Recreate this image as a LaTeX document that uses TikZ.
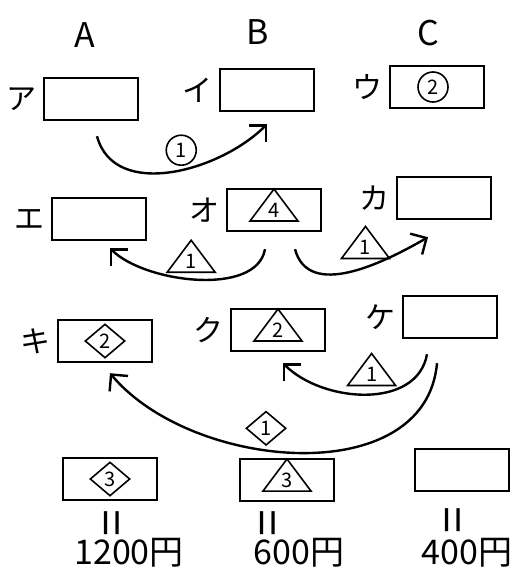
\documentclass[tikz,border=0pt]{standalone}
\usepackage{fontspec}
\setmainfont{Noto Sans CJK JP}
\usetikzlibrary{arrows.meta,positioning,shapes.geometric}

\begin{document}
\begin{tikzpicture}[
  x=0.5pt, y=-0.5pt,
  node distance=3pt,
  box/.style={draw, very thick, minimum width=47pt, minimum height=21pt, inner sep=0pt},
  kana/.style={font=\fontsize{15}{15}\selectfont, inner sep=0pt},
  head/.style={font=\fontsize{17}{17}\selectfont, inner sep=0pt},
  price/.style={font=\fontsize{17}{17}\selectfont, inner sep=0pt},
  eqsign/.style={font=\fontsize{24}{24}\selectfont, inner sep=0pt, rotate=90},
  circ/.style={draw, thick, circle, minimum size=15pt, inner sep=0pt, font=\fontsize{10}{10}\selectfont},
  tri/.style={draw, thick, isosceles triangle, shape border rotate=90, isosceles triangle stretches, minimum width=24pt, minimum height=16pt, inner sep=0pt, font=\fontsize{10}{10}\selectfont},
  dia/.style={draw, thick, diamond, minimum width=20pt, minimum height=17pt, inner sep=0pt, font=\fontsize{10}{10}\selectfont},
  arrow/.style={-{Straight Barb[length=6pt,width=12pt]}, very thick}
]
\useasboundingbox (0,0) rectangle (516,568);

% column heads
\node[head] (hA) at (85,35) {A};
\node[head] (hB) at (258,32) {B};
\node[head] (hC) at (428,33) {C};

% boxes
\node[box] (a) at (91,99) {};
\node[box] (i) at (267,90) {};
\node[box] (u) at (437,87) {};
\node[box] (e) at (99,219) {};
\node[box] (o) at (274,210) {};
\node[box] (ka) at (444,198) {};
\node[box] (ki) at (105,341) {};
\node[box] (ku) at (278,330) {};
\node[box] (ke) at (450,317) {};
\node[box] (p1) at (110,479) {};
\node[box] (p2) at (287,480) {};
\node[box] (p3) at (462,470) {};

% kana labels
\node[kana, left=of a] (la) {ア};
\node[kana, left=of i] (li) {イ};
\node[kana, left=of u] (lu) {ウ};
\node[kana, left=of e] (le) {エ};
\node[kana, left=of o] (lo) {オ};
\node[kana, left=of ka] (lka) {カ};
\node[kana, left=of ki] (lki) {キ};
\node[kana, left=of ku] (lku) {ク};
\node[kana, left=of ke] (lke) {ケ};

% marks inside the boxes
\node[circ] (mu) at ([xshift=-2pt]u.center) {2};
\node[tri] (mo) at (o) {4};
\node[dia] (mki) at (ki) {2};
\node[tri] (mku) at (ku) {2};
\node[dia] (mp1) at (p1) {3};
\node[tri] (mp2) at (p2) {3};

% prices
\node[eqsign] (eq1) at (117,523) {=};
\node[eqsign] (eq2) at (273,523) {=};
\node[eqsign] (eq3) at (458,520) {=};
\node[price] (yen1) at (129,553) {1200円};
\node[price] (yen2) at (299,553) {600円};
\node[price] (yen3) at (467,553) {400円};

% moves
\draw[arrow] ([xshift=3pt,yshift=-7.5pt]a.south) to[out=-75,in=-135]
  node[circ, pos=0.55, above=2pt] (n1) {1} ([yshift=-6pt]i.south);
\draw[arrow] ([xshift=-4.5pt,yshift=-8.5pt]o.south) to[out=-100,in=-45,looseness=0.8]
  node[tri, pos=0.53, above=3pt] (n2) {1} ([xshift=5.5pt,yshift=-3.5pt]e.south);
\draw[arrow] ([xshift=10.5pt,yshift=-8.5pt]o.south) to[out=-75,in=-150]
  node[tri, pos=0.6, above=4pt] (n3) {1} ([xshift=-8pt,yshift=-8.5pt]ka.south);
\draw[arrow] ([xshift=-11.5pt,yshift=-7.5pt]ke.south) to[out=-100,in=-45]
  node[tri, pos=0.47, above=4pt] (n4) {1} ([xshift=2.5pt,yshift=-5.5pt]ku.south);
\draw[arrow] ([xshift=-6.5pt,yshift=-12pt]ke.south) to[out=-95,in=-50]
  node[dia, pos=0.58, above=2pt] (n5) {1} ([xshift=2.5pt,yshift=-5pt]ki.south);
\end{tikzpicture}
\end{document}
